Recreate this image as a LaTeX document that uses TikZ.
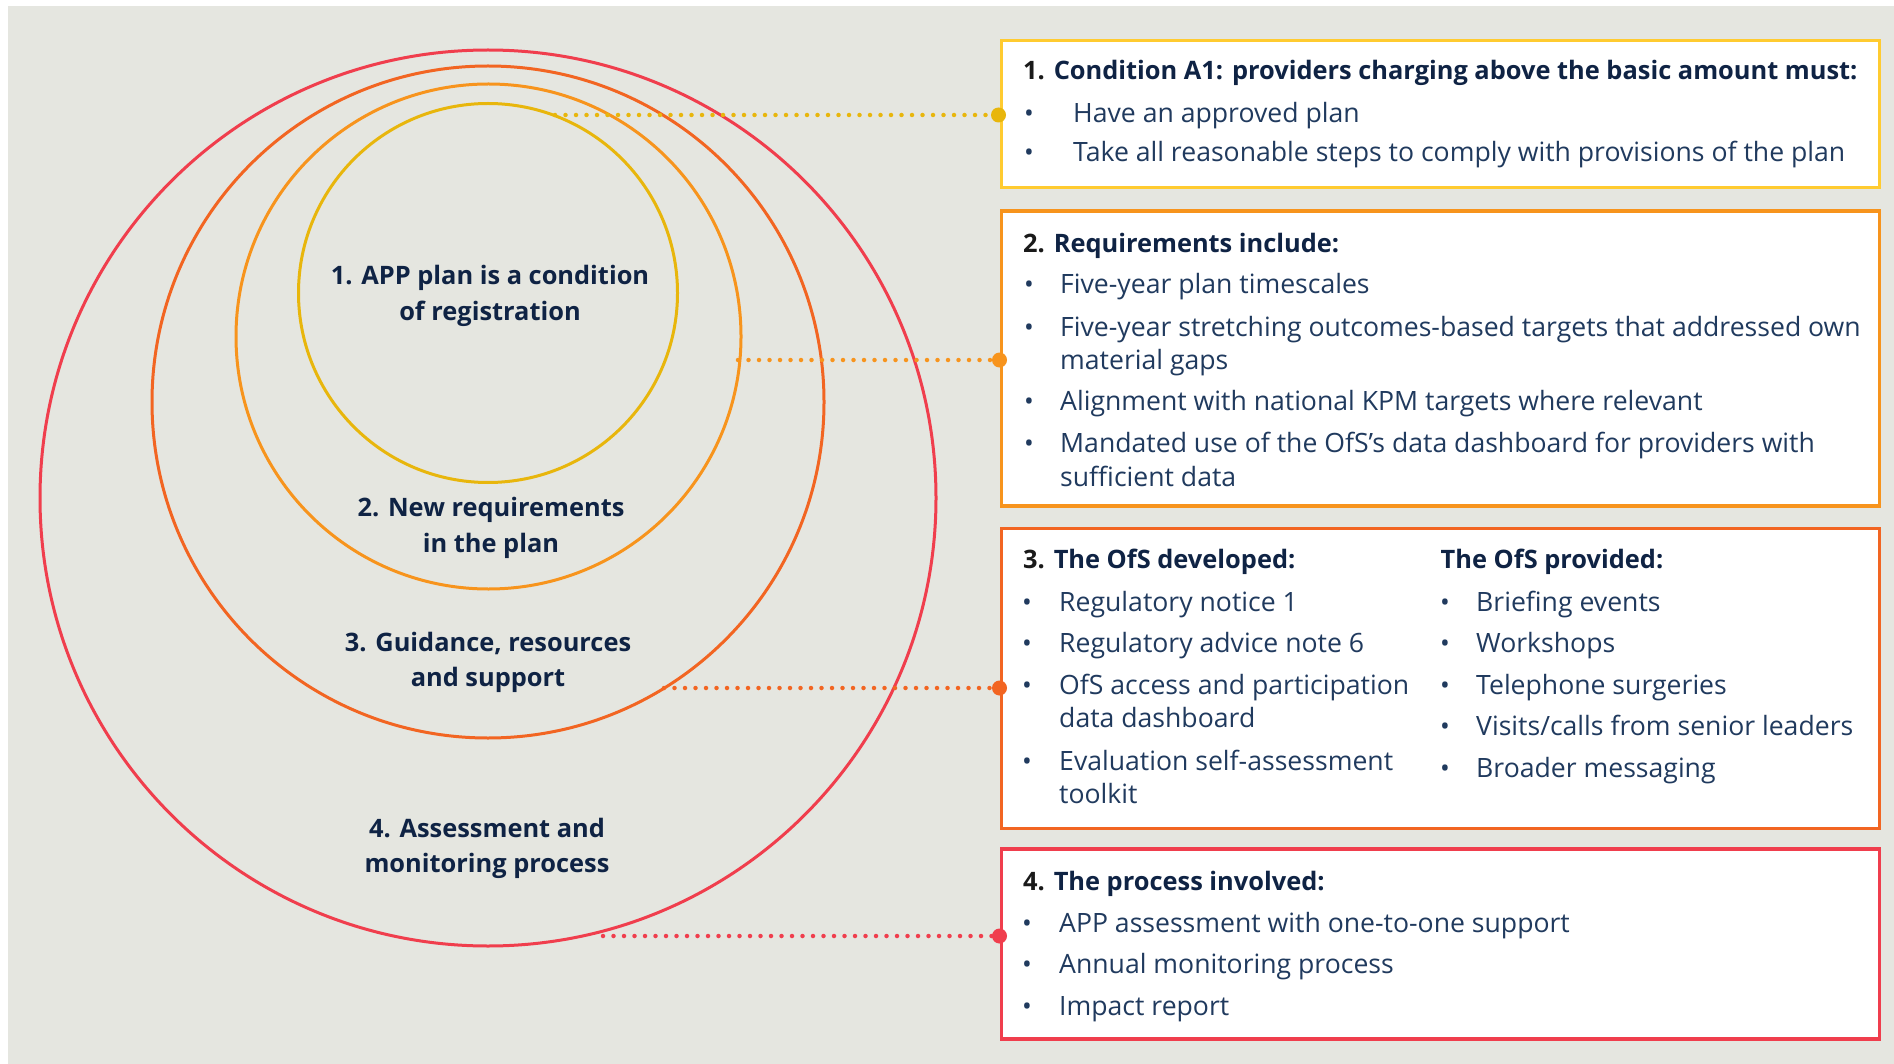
\documentclass[tikz,border=0pt]{standalone}
\usepackage{fontspec}
\setmainfont{Open Sans}
\definecolor{bg}{HTML}{E5E6E0}
\definecolor{cyel}{HTML}{E8B60C}
\definecolor{byel}{HTML}{FFCB30}
\definecolor{corg}{HTML}{F7941D}
\definecolor{cdor}{HTML}{F26522}
\definecolor{cred}{HTML}{F03E4D}
\definecolor{body}{HTML}{203A5E}
\definecolor{head}{HTML}{0F2344}
\definecolor{num}{HTML}{1A1A1A}
\newcommand{\bitem}[5]{\node[bul] (#1b) at (#2,#4) {•};\node[txt] (#1) at (#3,#4) {#5};}
\begin{document}
\begin{tikzpicture}[x=1pt,y=-1pt,
  ring/.style={line width=3pt},
  panel/.style={draw, fill=white, line width=3.5pt, rectangle, inner sep=0pt, outer sep=0pt, anchor=north west, minimum width=878pt},
  txt/.style={anchor=base west, inner sep=0pt, font=\fontsize{26.6}{32}\selectfont, text=body},
  hd/.style={anchor=base west, inner sep=0pt, font=\fontsize{25.4}{32}\selectfont\bfseries, text=head},
  bul/.style={anchor=base, inner sep=0pt, font=\fontsize{26}{32}\selectfont, text=body},
  clab/.style={anchor=base, inner sep=0pt, font=\fontsize{25.4}{32}\selectfont\bfseries, text=head},
  dots/.style={line width=4.5pt, dash pattern=on 0pt off 10.5pt, line cap=round},
  knob/.style={circle, inner sep=0pt, minimum size=15pt}
]
\useasboundingbox (0,0) rectangle (1894,1064);
\fill[white] (0,0) rectangle (1894,1064);
\fill[bg] (8,6) rectangle (1894,1064);

% rings
\draw[ring, cred] (488,498) circle[radius=448pt];
\draw[ring, cdor] (488,402) circle[radius=336pt];
\draw[ring, corg] (488.5,336.5) circle[radius=252.5pt];
\draw[ring, cyel] (488,293) circle[radius=189.5pt];

% ring labels
\node[clab] (c1a) at (490,285) {1. APP plan is a condition};
\node[clab] (c1b) at (490,320) {of registration};
\node[clab] (c2a) at (491,516.5) {2. New requirements};
\node[clab] (c2b) at (491,552) {in the plan};
\node[clab] (c3a) at (488,651) {3. Guidance, resources};
\node[clab] (c3b) at (488,686) {and support};
\node[clab] (c4a) at (487,837) {4. Assessment and};
\node[clab] (c4b) at (487,872) {monitoring process};

% panels
\node[panel, draw=byel, minimum height=147pt] (p1) at (1001.5,40.5) {};
\node[panel, draw=corg, minimum height=295pt] (p2) at (1001.5,211) {};
\node[panel, draw=cdor, minimum height=300pt] (p3) at (1001.5,528.5) {};
\node[panel, draw=cred, minimum height=190pt] (p4) at (1001.5,849) {};

% connectors
\coordinate (s1) at (555,115);
\coordinate (s2) at (738,360);
\coordinate (s3) at (664,688);
\coordinate (s4) at (603,936);
\draw[dots, cyel] (s1) -- (p1.west |- s1);
\draw[dots, corg] (s2) -- (p2.west |- s2);
\draw[dots, cdor] (s3) -- (p3.west |- s3);
\draw[dots, cred] (s4) -- (p4.west |- s4);
\node[knob, fill=cyel] (k1) at ([xshift=-3pt]p1.west |- s1) {};
\node[knob, fill=corg] (k2) at ([xshift=-2pt]p2.west |- s2) {};
\node[knob, fill=cdor] (k3) at ([xshift=-2pt]p3.west |- s3) {};
\node[knob, fill=cred] (k4) at ([xshift=-2pt]p4.west |- s4) {};

% panel 1
\node[hd] (h1) at (1023,80) {{\color{num}1.} Condition A1: providers charging above the basic amount must:};
\bitem{t11}{1029}{1073}{122.5}{Have an approved plan}
\bitem{t12}{1029}{1073}{162}{Take all reasonable steps to comply with provisions of the plan}

% panel 2
\node[hd] (h2) at (1023,252.5) {{\color{num}2.} Requirements include:};
\bitem{t21}{1029}{1060}{294}{Five-year plan timescales}
\bitem{t22}{1029}{1060}{336}{Five-year stretching outcomes-based targets that addressed own}
\node[txt] (t22c) at (1060,369) {material gaps};
\bitem{t23}{1029}{1060}{410}{Alignment with national KPM targets where relevant}
\bitem{t24}{1029}{1060}{452}{Mandated use of the OfS’s data dashboard for providers with}
\node[txt] (t24c) at (1060,486) {sufficient data};

% panel 3
\node[hd] (h3) at (1023,568.5) {{\color{num}3.} The OfS developed:};
\node[hd] (h3r) at (1440.5,568.5) {The OfS provided:};
\bitem{t31}{1027}{1059}{611.5}{Regulatory notice 1}
\bitem{t32}{1027}{1059}{652.5}{Regulatory advice note 6}
\bitem{t33}{1027}{1059}{694.5}{OfS access and participation}
\node[txt] (t33c) at (1059,727.5) {data dashboard};
\bitem{t34}{1027}{1059}{770}{Evaluation self-assessment}
\node[txt] (t34c) at (1059,803) {toolkit};
\bitem{r31}{1445}{1476}{611.5}{Briefing events}
\bitem{r32}{1445}{1476}{652.5}{Workshops}
\bitem{r33}{1445}{1476}{694.5}{Telephone surgeries}
\bitem{r34}{1445}{1476}{735.5}{Visits/calls from senior leaders}
\bitem{r35}{1445}{1476}{777.5}{Broader messaging}

% panel 4
\node[hd] (h4) at (1023,890) {{\color{num}4.} The process involved:};
\bitem{t41}{1027}{1059}{932.5}{APP assessment with one-to-one support}
\bitem{t42}{1027}{1059}{973.5}{Annual monitoring process}
\bitem{t43}{1027}{1059}{1015.5}{Impact report}
\end{tikzpicture}
\end{document}
